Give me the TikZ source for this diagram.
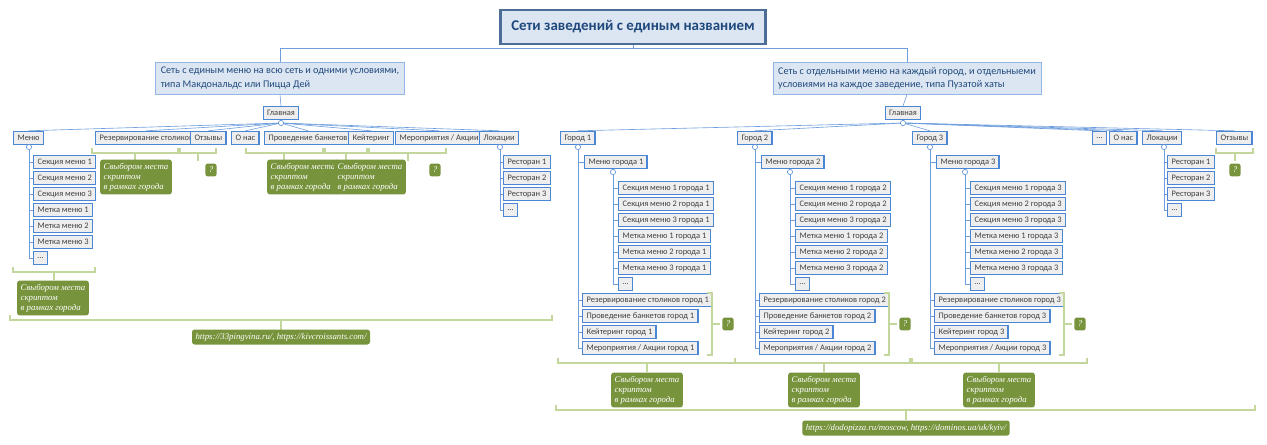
\documentclass[tikz,border=0pt]{standalone}
\usepackage{fontspec}
\setmainfont{Carlito}
\newfontfamily\notefont{Liberation Serif}
\usetikzlibrary{positioning}
\definecolor{boxblue}{HTML}{4A86D4}
\definecolor{boxfill}{HTML}{EEEEEE}
\definecolor{notegreen}{HTML}{77933C}
\definecolor{brkgreen}{HTML}{C3D69B}
\definecolor{titlefill}{HTML}{DCE6F2}
\definecolor{titletext}{HTML}{1F497D}
\tikzset{
  box/.style={draw=boxblue, fill=boxfill, line width=0.8pt, anchor=west, minimum height=0.26cm,
    inner xsep=2.2pt, inner ysep=0pt, font=\fontsize{4.8}{5.5}\selectfont, text=black!75},
  sub/.style={draw=boxblue!60, fill=titlefill, line width=0.4pt, align=left, inner sep=3pt,
    font=\fontsize{5.8}{7.5}\selectfont, text=titletext},
  note/.style={fill=notegreen, rounded corners=1.5pt, text=white, align=left, inner sep=2pt,
    font=\notefont\itshape\fontsize{5}{5.6}\selectfont},
  link/.style={draw=boxblue!80, line width=0.35pt},
  brk/.style={draw=brkgreen, line width=1.3pt},
  dot/.style={circle, draw=boxblue, fill=white, line width=0.3pt, inner sep=0pt, minimum size=3pt}
}
\newcommand\bx[4]{\node[box] (#1) at (#2,#3) {#4};}
% bracket under a row: x1, x2, y, centre x, bottom y
\newcommand\brk[5]{\draw[brk] (#1,#3-5) -- (#1,#3) -- (#2,#3) -- (#2,#3-5); \draw[brk] (#4,#3) -- (#4,#5);}
\begin{document}
\begin{tikzpicture}[x=0.02cm, y=-0.02cm]
\useasboundingbox (0,0) rectangle (1267,444);

% Title
\node[draw=titletext!80, fill=titlefill, line width=1.3pt, minimum width=5.3cm, minimum height=0.68cm,
  font=\fontsize{8.5}{10}\selectfont\bfseries, text=titletext] (title) at (633,27) {Сети заведений с единым названием};
\node[sub] (subL) at (280,78) {Сеть с единым меню на всю сеть и одними условиями,\\типа Макдональдс или Пицца Дей};
\node[sub] (subR) at (907,78) {Сеть с отдельными меню на каждый город, и отдельныеми\\условиями на каждое заведение, типа Пузатой хаты};
\draw[link] (title.south) -- ++(0,3) -| (subL.north);
\draw[link] (title.south) -- ++(0,3) -| (subR.north);

% Left side
\node[box, anchor=center] (glavL) at (281,113) {Главная};
\draw[link] (subL.south) -- (glavL.north);
\node[dot] (gcL) at (281,123) {};
\bx{menu}{13}{138}{Меню}
\bx{rezL}{95}{138}{Резервирование столиков}
\bx{otzL}{190}{138}{Отзывы}
\bx{onasL}{231}{138}{О нас}
\bx{bankL}{264}{138}{Проведение банкетов}
\bx{ketL}{348}{138}{Кейтеринг}
\bx{merL}{395}{138}{Мероприятия / Акции}
\bx{lokL}{479}{138}{Локации}
\foreach \n in {menu,rezL,otzL,onasL,bankL,ketL,merL,lokL}
  \draw[link] (gcL) -- (\n.north);

\node[dot] (mc) at (29,147) {};
\foreach \t [count=\i] in {Секция меню 1,Секция меню 2,Секция меню 3,Метка меню 1,Метка меню 2,Метка меню 3,\ldots} {
  \bx{m\i}{33}{146+16*\i}{\t}
  \draw[link] (mc) |- (m\i.west);
}
\node[dot] (lc) at (500,147) {};
\foreach \t [count=\i] in {Ресторан 1,Ресторан 2,Ресторан 3,\ldots} {
  \bx{l\i}{503}{146+16*\i}{\t}
  \draw[link] (lc) |- (l\i.west);
}

% Left brackets and notes
\brk{13}{95}{272}{54}{280}
\node[note] (nm) at (53,298) {Свыбором места\\скриптом\\в рамках города};
\brk{92}{178}{153}{135}{161}
\node[note] (nr) at (136,177) {Свыбором места\\скриптом\\в рамках города};
\brk{180}{216}{153}{198}{161}
\node[note] (qo) at (211,170) {?};
\brk{246}{323}{153}{284}{161}
\brk{325}{367}{153}{346}{161}
\brk{369}{446}{153}{408}{161}
\node[note] (nb) at (303,177) {Свыбором места\\скриптом\\в рамках города};
\node[note] (nk) at (370,177) {Свыбором места\\скриптом\\в рамках города};
\node[note] (qm) at (435,170) {?};
\brk{10}{552}{320}{281}{330}
\node[note] (urlL) at (281,337) {https://33pingvina.ru/, https://kivcroissants.com/};

% Right side
\node[box, anchor=center] (glavR) at (903,113) {Главная};
\draw[link] (subR.south) -- (glavR.north);
\node[dot] (gcR) at (903,123) {};
\foreach \k/\d in {1/0,2/177,3/352} {
  \bx{g\k}{560+\d}{138}{Город \k}
  \draw[link] (gcR) -- (g\k.north);
  \node[dot] (gc\k) at (578+\d,147) {};
  \bx{mg\k}{584+\d}{162}{Меню города \k}
  \draw[link] (gc\k) |- (mg\k.west);
  \node[dot] (mgc\k) at (613+\d,172) {};
  \foreach \t [count=\i] in {Секция меню 1 города \k,Секция меню 2 города \k,Секция меню 3 города \k,
      Метка меню 1 города \k,Метка меню 2 города \k,Метка меню 3 города \k,\ldots} {
    \bx{s\k\i}{618+\d}{172+16*\i}{\t}
    \draw[link] (mgc\k) |- (s\k\i.west);
  }
  \foreach \t [count=\i] in {Резервирование столиков город \k,Проведение банкетов город \k,
      Кейтеринг город \k,Мероприятия / Акции город \k} {
    \bx{e\k\i}{582+\d}{284+16*\i}{\t}
    \draw[link] (gc\k) |- (e\k\i.west);
  }
  \draw[brk] (707+\d,293) -- (712+\d,293) -- (712+\d,355) -- (707+\d,355);
  \draw[brk] (712+\d,324) -- (720+\d,324);
  \node[note] (q\k) at (728+\d,324) {?};
  \brk{558+\d}{735+\d}{363}{647+\d}{372}
  \node[note] (nc\k) at (647+\d,390) {Свыбором места\\скриптом\\в рамках города};
}
\bx{dotsR}{1092}{138}{\ldots}
\bx{onasR}{1109}{138}{О нас}
\bx{lokR}{1142}{138}{Локации}
\bx{otzR}{1216}{138}{Отзывы}
\foreach \n in {dotsR,onasR,lokR,otzR}
  \draw[link] (gcR) -- (\n.north);
\node[dot] (lcR) at (1164,147) {};
\foreach \t [count=\i] in {Ресторан 1,Ресторан 2,Ресторан 3,\ldots} {
  \bx{r\i}{1167}{146+16*\i}{\t}
  \draw[link] (lcR) |- (r\i.west);
}
\brk{1216}{1253}{153}{1235}{161}
\node[note] (qoR) at (1235,170) {?};
\brk{556}{1255}{410}{906}{420}
\node[note] (urlR) at (906,428) {https://dodopizza.ru/moscow, https://dominos.ua/uk/kyiv/};
\end{tikzpicture}
\end{document}
